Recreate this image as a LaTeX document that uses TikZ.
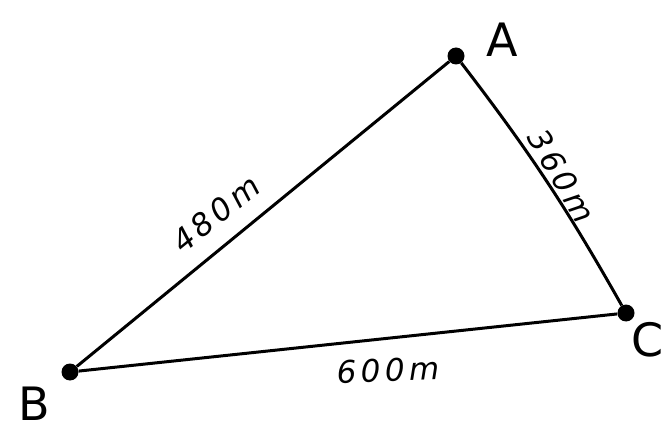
\documentclass[tikz,border=0pt]{standalone}
\usepackage{fontspec}
\setmainfont{DejaVu Sans}
\newfontfamily\handfont[LetterSpace=14]{DejaVu Sans}
\begin{document}
\begin{tikzpicture}[x=1pt,y=-1pt,
  dot/.style={circle,fill=black,inner sep=0pt,minimum size=17pt},
  side/.style={line width=3pt,black},
  vlabel/.style={font=\fontsize{46}{46}\selectfont,inner sep=0pt},
  elabel/.style={font=\handfont\fontsize{31}{31}\selectfont\itshape,inner sep=1pt}]
\useasboundingbox (0,0) rectangle (670,433);
\node[dot] (A) at (456,56) {};
\node[dot] (B) at (70,372) {};
\node[dot] (C) at (626,313) {};
\draw[side] (B) -- (A);
\draw[side] (A) to[bend left=4] (C);
\draw[side] (B) -- (C);
\node[vlabel] (lA) at (502,40) {A};
\node[vlabel] (lB) at (34,404) {B};
\node[vlabel] (lC) at (648,340) {C};
\node[elabel,rotate=39] (l480) at (216,214) {480m};
\node[elabel,rotate=-60] (l360) at (562,176) {360m};
\node[elabel,rotate=2] (l600) at (388,370) {600m};
\end{tikzpicture}
\end{document}
